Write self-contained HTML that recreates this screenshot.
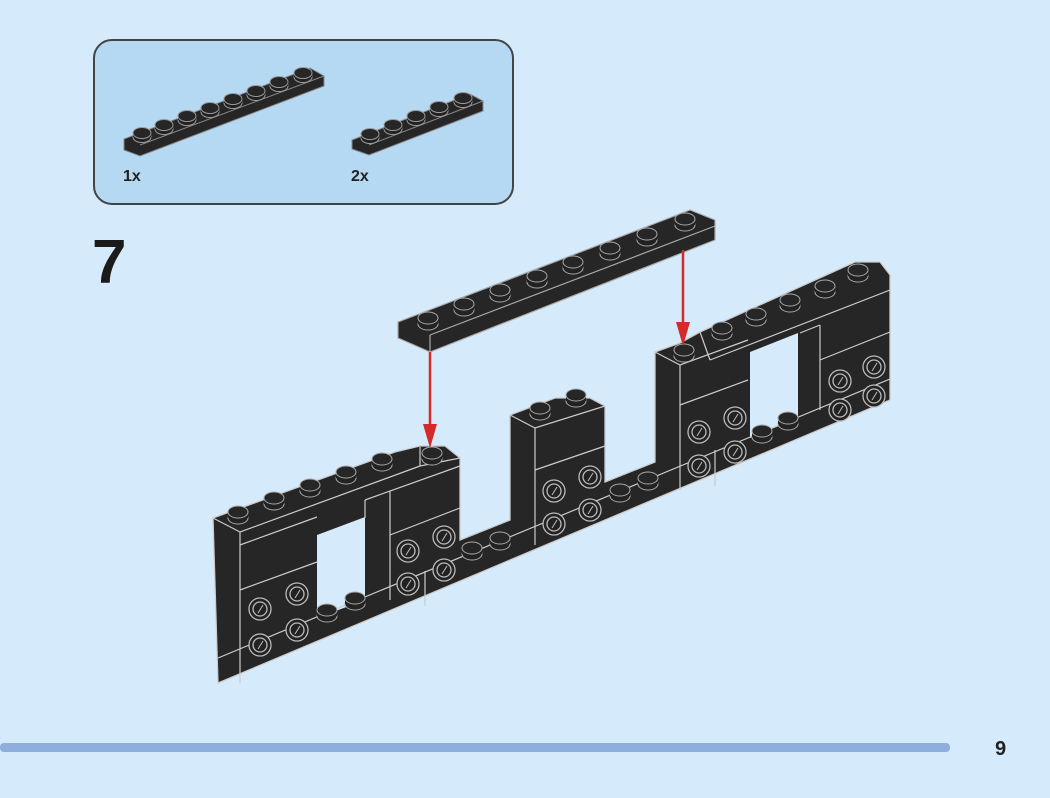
<!DOCTYPE html>
<html><head><meta charset="utf-8"><style>
html,body{margin:0;padding:0;background:#d5ebfb;}
body{width:1050px;height:793px;position:relative;overflow:hidden;font-family:"Liberation Sans",sans-serif;}
</style></head><body>
<svg width="1050" height="793" viewBox="0 0 1050 793" xmlns="http://www.w3.org/2000/svg">
<defs>
<g id="stud"><ellipse cx="0" cy="4" rx="10" ry="6" fill="#222" stroke="#aaa" stroke-width="1"/><rect x="-10" y="-2" width="20" height="6" fill="#222"/><ellipse cx="0" cy="-2" rx="10" ry="6" fill="#262626" stroke="#aaa" stroke-width="1"/></g>
<g id="sstud"><ellipse cx="0" cy="3" rx="9" ry="5.5" fill="#222" stroke="#999" stroke-width="1"/><rect x="-9" y="-1" width="18" height="4" fill="#222"/><ellipse cx="0" cy="-1" rx="9" ry="5.5" fill="#262626" stroke="#999" stroke-width="1"/></g>
<g id="side"><circle r="11" fill="#222" stroke="#bbb" stroke-width="1.3"/><circle r="7" fill="none" stroke="#bbb" stroke-width="1.3"/><path d="M-2,4 L3,-4" stroke="#bbb" stroke-width="1"/></g>
</defs>
<!-- parts box -->
<rect x="94" y="40" width="419" height="164" rx="18" fill="#b5d8f3" stroke="#444" stroke-width="2"/>
<polygon points="124,139 310,68 324,76 324,86 140,156 124,150" fill="#262626" stroke="#888" stroke-width="1"/>
<line x1="140" y1="145" x2="324" y2="76" stroke="#888" stroke-width="1"/>
<g>
<use href="#sstud" x="142" y="134"/><use href="#sstud" x="164" y="126"/><use href="#sstud" x="187" y="117"/><use href="#sstud" x="210" y="109"/><use href="#sstud" x="233" y="100"/><use href="#sstud" x="256" y="92"/><use href="#sstud" x="279" y="83"/><use href="#sstud" x="303" y="74"/>
</g>
<polygon points="352,140 470,94 483,101 483,111 369,155 352,149" fill="#262626" stroke="#888" stroke-width="1"/>
<line x1="369" y1="145" x2="483" y2="101" stroke="#888" stroke-width="1"/>
<use href="#sstud" x="370" y="135"/><use href="#sstud" x="393" y="126"/><use href="#sstud" x="416" y="117"/><use href="#sstud" x="439" y="108"/><use href="#sstud" x="463" y="99"/>
<text x="123" y="181" font-size="16" font-weight="bold" fill="#222">1x</text>
<text x="351" y="181" font-size="16" font-weight="bold" fill="#222">2x</text>
<text x="92" y="283" font-size="62" font-weight="bold" fill="#1a1a1a">7</text>

<!-- floating plate -->
<polygon points="398,322 690,210 715,220 715,240 430,352 398,338" fill="#262626" stroke="#aaa" stroke-width="1.2"/>
<line x1="430" y1="335" x2="715" y2="226" stroke="#aaa" stroke-width="1.2"/>
<line x1="430" y1="335" x2="430" y2="352" stroke="#aaa" stroke-width="1.2"/>
<use href="#stud" x="428" y="320"/><use href="#stud" x="464" y="306"/><use href="#stud" x="500" y="292"/><use href="#stud" x="537" y="278"/><use href="#stud" x="573" y="264"/><use href="#stud" x="610" y="250"/><use href="#stud" x="647" y="236"/><use href="#stud" x="685" y="221"/>

<!-- main silhouette -->
<polygon points="218,683 213,518 395,452 420,446 445,446 460,458 460,540 510,520 510,415 555,398 590,398 605,406 605,482 655,462 655,352 680,343 700,332 855,262 880,262 890,275 890,400" fill="#262626" stroke="#ccc" stroke-width="1.3"/>
<!-- holes -->
<polygon points="317,535 365,517 365,600 317,618" fill="#d5ebfb"/>
<polygon points="750,352 798,333 798,418 750,438" fill="#d5ebfb"/>
<g stroke="#ccc" stroke-width="1.2" fill="none">
<polyline points="218,658 890,379"/>
<line x1="425" y1="571" x2="425" y2="606"/>
<line x1="715" y1="450" x2="715" y2="486"/>
<polyline points="213,518 240,532 420,466"/>
<line x1="240" y1="532" x2="240" y2="683"/>
<line x1="240" y1="545" x2="317" y2="517"/>
<line x1="240" y1="590" x2="317" y2="562"/>
<line x1="365" y1="500" x2="460" y2="466"/>
<line x1="390" y1="491" x2="390" y2="600"/>
<line x1="390" y1="535" x2="460" y2="508"/>
<line x1="420" y1="466" x2="460" y2="458"/>
<line x1="420" y1="466" x2="420" y2="447"/>
<line x1="365" y1="500" x2="365" y2="518"/>
<polyline points="510,415 535,428 605,406"/>
<line x1="535" y1="428" x2="535" y2="545"/>
<line x1="535" y1="470" x2="605" y2="446"/>
<polyline points="655,352 680,365 748,340"/>
<line x1="680" y1="365" x2="680" y2="490"/>
<line x1="680" y1="405" x2="748" y2="380"/>
<line x1="700" y1="332" x2="710" y2="360"/>
<line x1="710" y1="360" x2="890" y2="290"/>
<line x1="820" y1="325" x2="820" y2="410"/>
<line x1="820" y1="360" x2="890" y2="332"/>
<line x1="800" y1="333" x2="820" y2="325"/>
</g>
<use href="#stud" x="238" y="514"/><use href="#stud" x="274" y="500"/><use href="#stud" x="310" y="487"/><use href="#stud" x="346" y="474"/><use href="#stud" x="382" y="461"/><use href="#stud" x="432" y="455"/>
<use href="#stud" x="540" y="410"/><use href="#stud" x="576" y="397"/>
<use href="#stud" x="684" y="352"/><use href="#stud" x="722" y="330"/><use href="#stud" x="756" y="316"/><use href="#stud" x="790" y="302"/><use href="#stud" x="825" y="288"/><use href="#stud" x="858" y="272"/>
<use href="#stud" x="355" y="600"/><use href="#stud" x="327" y="612"/><use href="#stud" x="500" y="540"/><use href="#stud" x="472" y="550"/><use href="#stud" x="648" y="480"/><use href="#stud" x="620" y="492"/><use href="#stud" x="788" y="420"/><use href="#stud" x="762" y="433"/>
<use href="#side" x="260" y="609"/><use href="#side" x="297" y="594"/><use href="#side" x="260" y="645"/><use href="#side" x="297" y="630"/>
<use href="#side" x="408" y="551"/><use href="#side" x="444" y="537"/><use href="#side" x="408" y="584"/><use href="#side" x="444" y="570"/>
<use href="#side" x="554" y="491"/><use href="#side" x="590" y="477"/><use href="#side" x="554" y="524"/><use href="#side" x="590" y="510"/>
<use href="#side" x="699" y="432"/><use href="#side" x="735" y="418"/><use href="#side" x="699" y="466"/><use href="#side" x="735" y="452"/>
<use href="#side" x="840" y="381"/><use href="#side" x="874" y="367"/><use href="#side" x="840" y="410"/><use href="#side" x="874" y="396"/>
<line x1="430" y1="352" x2="430" y2="430" stroke="#d42a2a" stroke-width="2.5"/>
<polygon points="423,424 437,424 430,448" fill="#d42a2a"/>
<line x1="683" y1="250" x2="683" y2="328" stroke="#d42a2a" stroke-width="2.5"/>
<polygon points="676,322 690,322 683,346" fill="#d42a2a"/>
<rect x="0" y="743" width="950" height="9" rx="4" fill="#8eaedd"/>
<text x="995" y="755" font-size="20" font-weight="bold" fill="#222">9</text>
</svg>
</body></html>
